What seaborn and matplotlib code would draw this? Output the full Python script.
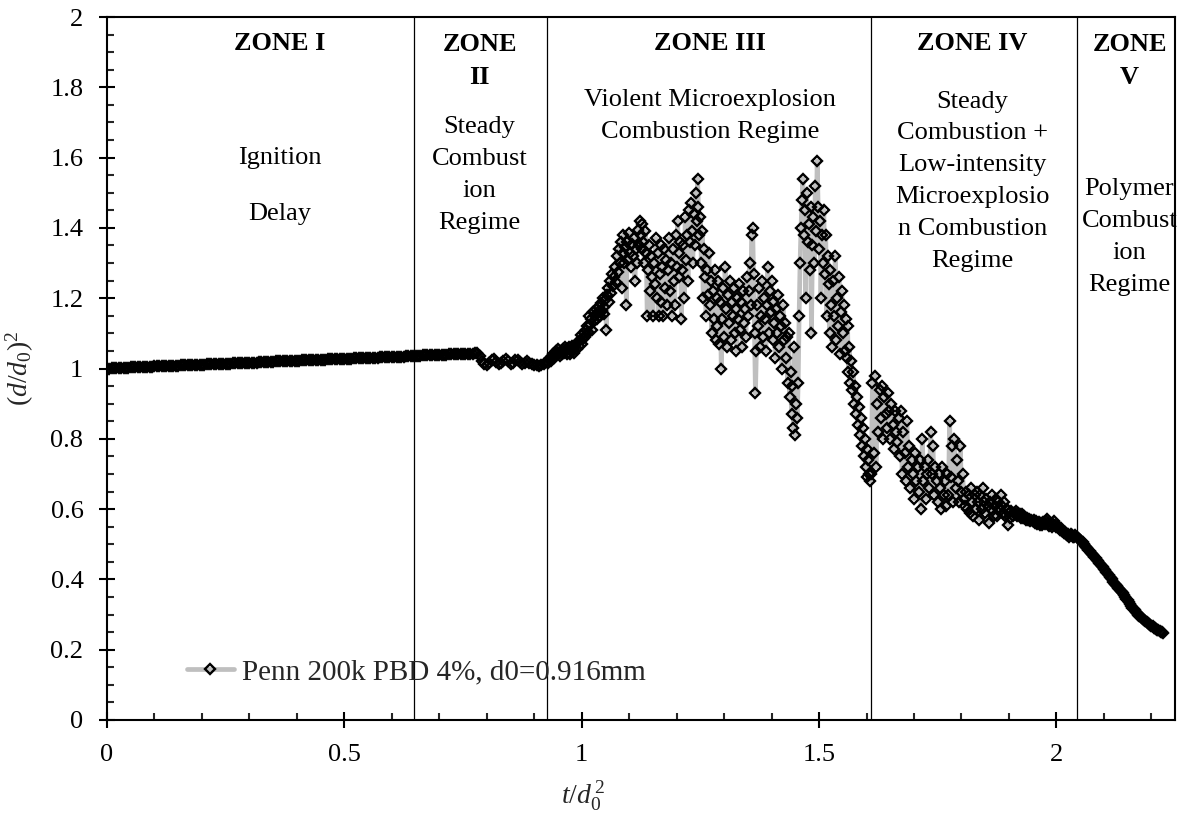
import numpy as np
import pandas as pd
import matplotlib
matplotlib.use("Agg")
import matplotlib.pyplot as plt
import seaborn as sns
from matplotlib.ticker import MultipleLocator, FuncFormatter

# ---------------- data ----------------
# Zone I : ignition delay (smooth, slowly rising)
t_zone1 = [0.000, 0.005, 0.010, 0.015, 0.020, 0.025, 0.030, 0.035, 0.040, 0.045,
           0.050, 0.055, 0.060, 0.065, 0.070, 0.075, 0.080, 0.085, 0.090, 0.095,
           0.100, 0.105, 0.110, 0.115, 0.120, 0.125, 0.130, 0.135, 0.140, 0.145,
           0.150, 0.155, 0.160, 0.165, 0.170, 0.175, 0.180, 0.185, 0.190, 0.195,
           0.200, 0.205, 0.210, 0.215, 0.220, 0.225, 0.230, 0.235, 0.240, 0.245,
           0.250, 0.255, 0.260, 0.265, 0.270, 0.275, 0.280, 0.285, 0.290, 0.295,
           0.300, 0.305, 0.310, 0.315, 0.320, 0.325, 0.330, 0.335, 0.340, 0.345,
           0.350, 0.355, 0.360, 0.365, 0.370, 0.375, 0.380, 0.385, 0.390, 0.395,
           0.400, 0.405, 0.410, 0.415, 0.420, 0.425, 0.430, 0.435, 0.440, 0.445,
           0.450, 0.455, 0.460, 0.465, 0.470, 0.475, 0.480, 0.485, 0.490, 0.495,
           0.500, 0.505, 0.510, 0.515, 0.520, 0.525, 0.530, 0.535, 0.540, 0.545,
           0.550, 0.555, 0.560, 0.565, 0.570, 0.575, 0.580, 0.585, 0.590, 0.595,
           0.600, 0.605, 0.610, 0.615, 0.620, 0.625, 0.630, 0.635, 0.640, 0.645,
           0.650, 0.655, 0.660, 0.665, 0.670, 0.675, 0.680, 0.685, 0.690, 0.695,
           0.700, 0.705, 0.710, 0.715, 0.720, 0.725, 0.730, 0.735, 0.740, 0.745,
           0.750, 0.755, 0.760, 0.765, 0.770, 0.775, 0.780]
d_zone1 = [1.000, 1.000, 1.001, 1.001, 1.001, 1.001, 1.002, 1.002, 1.002, 1.002,
           1.003, 1.003, 1.003, 1.004, 1.004, 1.004, 1.004, 1.005, 1.005, 1.005,
           1.006, 1.006, 1.006, 1.006, 1.007, 1.007, 1.007, 1.007, 1.008, 1.008,
           1.008, 1.009, 1.009, 1.009, 1.009, 1.010, 1.010, 1.010, 1.010, 1.011,
           1.011, 1.011, 1.012, 1.012, 1.012, 1.012, 1.013, 1.013, 1.013, 1.013,
           1.014, 1.014, 1.014, 1.015, 1.015, 1.015, 1.015, 1.016, 1.016, 1.016,
           1.017, 1.017, 1.017, 1.017, 1.018, 1.018, 1.018, 1.018, 1.019, 1.019,
           1.019, 1.020, 1.020, 1.020, 1.020, 1.021, 1.021, 1.021, 1.021, 1.022,
           1.022, 1.022, 1.023, 1.023, 1.023, 1.023, 1.024, 1.024, 1.024, 1.024,
           1.025, 1.025, 1.025, 1.026, 1.026, 1.026, 1.026, 1.027, 1.027, 1.027,
           1.028, 1.028, 1.028, 1.028, 1.029, 1.029, 1.029, 1.029, 1.030, 1.030,
           1.030, 1.031, 1.031, 1.031, 1.031, 1.032, 1.032, 1.032, 1.032, 1.033,
           1.033, 1.033, 1.034, 1.034, 1.034, 1.034, 1.035, 1.035, 1.035, 1.035,
           1.036, 1.036, 1.036, 1.037, 1.037, 1.037, 1.037, 1.038, 1.038, 1.038,
           1.039, 1.039, 1.039, 1.039, 1.040, 1.040, 1.040, 1.040, 1.041, 1.041,
           1.041, 1.042, 1.042, 1.042, 1.042, 1.043, 1.043]

# Zone II : steady combustion (small wiggles)
t_zone2 = [0.785, 0.790, 0.795, 0.800, 0.805, 0.810, 0.815, 0.820, 0.825, 0.830,
           0.835, 0.840, 0.845, 0.850, 0.855, 0.860, 0.865, 0.870, 0.875, 0.880,
           0.885, 0.890, 0.895, 0.900, 0.905, 0.910, 0.915, 0.920, 0.925]
d_zone2 = [1.035, 1.022, 1.012, 1.010, 1.015, 1.024, 1.026, 1.018, 1.012, 1.015,
           1.022, 1.026, 1.020, 1.013, 1.016, 1.023, 1.025, 1.018, 1.014, 1.016,
           1.020, 1.016, 1.012, 1.010, 1.009, 1.008, 1.010, 1.012, 1.018]

# Zone III : violent microexplosions
t_zone3 = [0.930, 0.932, 0.934, 0.936, 0.938, 0.940, 0.942, 0.944, 0.946, 0.948,
           0.950, 0.952, 0.954, 0.956, 0.958, 0.960, 0.962, 0.964, 0.966, 0.968,
           0.970, 0.972, 0.974, 0.976, 0.978, 0.980, 0.982, 0.984, 0.986, 0.988,
           0.990, 0.992, 0.994, 0.996, 0.998, 1.000, 1.002, 1.004, 1.006, 1.008,
           1.010, 1.012, 1.014, 1.016, 1.018, 1.020, 1.022, 1.024, 1.026, 1.028,
           1.030, 1.032, 1.034, 1.036, 1.038, 1.040, 1.042, 1.044, 1.046, 1.048,
           1.050, 1.052, 1.054, 1.056, 1.058, 1.060, 1.062, 1.064, 1.066, 1.068,
           1.070, 1.072, 1.074, 1.076, 1.078, 1.080, 1.082, 1.084, 1.086, 1.088,
           1.090, 1.092, 1.094, 1.096, 1.098, 1.100, 1.102, 1.104, 1.106, 1.108,
           1.110, 1.112, 1.114, 1.116, 1.118, 1.120, 1.122, 1.124, 1.126, 1.128,
           1.130, 1.132, 1.134, 1.136, 1.138, 1.140, 1.142, 1.144, 1.146, 1.148,
           1.150, 1.152, 1.154, 1.156, 1.158, 1.160, 1.162, 1.164, 1.166, 1.168,
           1.170, 1.172, 1.174, 1.176, 1.178, 1.180, 1.182, 1.184, 1.186, 1.188,
           1.190, 1.192, 1.194, 1.196, 1.198, 1.200, 1.202, 1.204, 1.206, 1.208,
           1.210, 1.212, 1.214, 1.216, 1.218, 1.220, 1.222, 1.224, 1.226, 1.228,
           1.230, 1.232, 1.234, 1.236, 1.238, 1.240, 1.242, 1.244, 1.246, 1.248,
           1.250, 1.252, 1.254, 1.256, 1.258, 1.260, 1.262, 1.264, 1.266, 1.268,
           1.270, 1.272, 1.274, 1.276, 1.278, 1.280, 1.282, 1.284, 1.286, 1.288,
           1.290, 1.292, 1.294, 1.296, 1.298, 1.300, 1.302, 1.304, 1.306, 1.308,
           1.310, 1.312, 1.314, 1.316, 1.318, 1.320, 1.322, 1.324, 1.326, 1.328,
           1.330, 1.332, 1.334, 1.336, 1.338, 1.340, 1.342, 1.344, 1.346, 1.348,
           1.350, 1.352, 1.354, 1.356, 1.358, 1.360, 1.362, 1.364, 1.366, 1.368,
           1.370, 1.372, 1.374, 1.376, 1.378, 1.380, 1.382, 1.384, 1.386, 1.388,
           1.390, 1.392, 1.394, 1.396, 1.398, 1.400, 1.402, 1.404, 1.406, 1.408,
           1.410, 1.412, 1.414, 1.416, 1.418, 1.420, 1.422, 1.424, 1.426, 1.428,
           1.430, 1.432, 1.434, 1.436, 1.438, 1.440, 1.442, 1.444, 1.446, 1.448,
           1.450, 1.452, 1.454, 1.456, 1.458, 1.460, 1.462, 1.464, 1.466, 1.468,
           1.470, 1.472, 1.474, 1.476, 1.478, 1.480, 1.482, 1.484, 1.486, 1.488,
           1.490, 1.492, 1.494, 1.496, 1.498, 1.500, 1.502, 1.504, 1.506, 1.508,
           1.510, 1.512, 1.514, 1.516, 1.518, 1.520, 1.522, 1.524, 1.526, 1.528,
           1.530, 1.532, 1.534, 1.536, 1.538, 1.540, 1.542, 1.544, 1.546, 1.548,
           1.550, 1.552, 1.554, 1.556, 1.558, 1.560, 1.562, 1.564, 1.566, 1.568,
           1.570, 1.572, 1.574, 1.576, 1.578, 1.580, 1.582, 1.584, 1.586, 1.588,
           1.590, 1.592, 1.594, 1.596, 1.598, 1.600, 1.602, 1.604, 1.606, 1.608]
d_zone3 = [1.015, 1.025, 1.030, 1.020, 1.035, 1.040, 1.030, 1.045, 1.050, 1.040,
           1.055, 1.045, 1.035, 1.050, 1.040, 1.055, 1.045, 1.060, 1.050, 1.040,
           1.055, 1.045, 1.060, 1.040, 1.050, 1.065, 1.055, 1.045, 1.060, 1.070,
           1.055, 1.075, 1.065, 1.080, 1.095, 1.070, 1.085, 1.100, 1.090, 1.110,
           1.095, 1.120, 1.105, 1.150, 1.125, 1.140, 1.110, 1.160, 1.135, 1.150,
           1.170, 1.140, 1.160, 1.175, 1.150, 1.185, 1.165, 1.200, 1.175, 1.155,
           1.195, 1.110, 1.210, 1.230, 1.190, 1.250, 1.215, 1.270, 1.235, 1.260,
           1.290, 1.245, 1.320, 1.275, 1.340, 1.300, 1.360, 1.230, 1.330, 1.380,
           1.300, 1.345, 1.180, 1.360, 1.310, 1.385, 1.330, 1.290, 1.355, 1.320,
           1.370, 1.250, 1.340, 1.300, 1.395, 1.350, 1.420, 1.380, 1.340, 1.410,
           1.360, 1.300, 1.390, 1.330, 1.150, 1.280, 1.350, 1.220, 1.320, 1.260,
           1.150, 1.300, 1.240, 1.370, 1.200, 1.330, 1.150, 1.270, 1.350, 1.190,
           1.290, 1.150, 1.340, 1.230, 1.310, 1.180, 1.280, 1.370, 1.220, 1.300,
           1.150, 1.340, 1.250, 1.180, 1.380, 1.290, 1.420, 1.330, 1.260, 1.360,
           1.140, 1.280, 1.350, 1.200, 1.430, 1.310, 1.380, 1.250, 1.450, 1.360,
           1.470, 1.390, 1.300, 1.440, 1.350, 1.500, 1.420, 1.540, 1.460, 1.380,
           1.430, 1.300, 1.390, 1.200, 1.340, 1.260, 1.150, 1.280, 1.210, 1.330,
           1.180, 1.250, 1.100, 1.220, 1.140, 1.280, 1.080, 1.200, 1.120, 1.250,
           1.070, 1.190, 1.000, 1.140, 1.230, 1.090, 1.290, 1.170, 1.060, 1.210,
           1.130, 1.250, 1.080, 1.190, 1.150, 1.230, 1.100, 1.170, 1.050, 1.200,
           1.140, 1.240, 1.110, 1.190, 1.060, 1.220, 1.130, 1.170, 1.090, 1.260,
           1.150, 1.220, 1.300, 1.180, 1.380, 1.400, 1.270, 1.100, 0.930, 1.050,
           1.180, 1.120, 1.230, 1.060, 1.150, 1.250, 1.090, 1.200, 1.140, 1.050,
           1.180, 1.290, 1.100, 1.220, 1.160, 1.250, 1.080, 1.190, 1.130, 1.030,
           1.170, 1.100, 1.210, 1.060, 1.150, 1.120, 1.000, 1.180, 1.080, 1.130,
           1.030, 1.090, 0.960, 1.100, 0.920, 0.990, 0.870, 0.950, 0.830, 1.060,
           0.810, 0.900, 0.860, 0.960, 1.150, 1.300, 1.400, 1.480, 1.540, 1.380,
           1.450, 1.200, 1.500, 1.360, 1.410, 1.280, 1.460, 1.100, 1.350, 1.430,
           1.300, 1.520, 1.390, 1.590, 1.460, 1.340, 1.420, 1.200, 1.380, 1.300,
           1.450, 1.270, 1.380, 1.150, 1.320, 1.240, 1.100, 1.280, 1.180, 1.060,
           1.250, 1.150, 1.320, 1.080, 1.200, 1.120, 1.260, 1.040, 1.160, 1.220,
           1.100, 1.180, 1.050, 1.140, 1.030, 1.120, 0.990, 1.060, 0.960, 1.020,
           0.940, 0.990, 0.900, 0.950, 0.870, 0.920, 0.840, 0.890, 0.810, 0.860,
           0.780, 0.830, 0.750, 0.800, 0.720, 0.770, 0.690, 0.740, 0.700, 0.680]

# Zone IV : steady combustion + low-intensity microexplosions
t_zone4 = [1.6100, 1.6125, 1.6150, 1.6175, 1.6200, 1.6225, 1.6250, 1.6275,
           1.6300, 1.6325, 1.6350, 1.6375, 1.6400, 1.6425, 1.6450, 1.6475,
           1.6500, 1.6525, 1.6550, 1.6575, 1.6600, 1.6625, 1.6650, 1.6675,
           1.6700, 1.6725, 1.6750, 1.6775, 1.6800, 1.6825, 1.6850, 1.6875,
           1.6900, 1.6925, 1.6950, 1.6975, 1.7000, 1.7025, 1.7050, 1.7075,
           1.7100, 1.7125, 1.7150, 1.7175, 1.7200, 1.7225, 1.7250, 1.7275,
           1.7300, 1.7325, 1.7350, 1.7375, 1.7400, 1.7425, 1.7450, 1.7475,
           1.7500, 1.7525, 1.7550, 1.7575, 1.7600, 1.7625, 1.7650, 1.7675,
           1.7700, 1.7725, 1.7750, 1.7775, 1.7800, 1.7825, 1.7850, 1.7875,
           1.7900, 1.7925, 1.7950, 1.7975, 1.8000, 1.8025, 1.8050, 1.8075,
           1.8100, 1.8125, 1.8150, 1.8175, 1.8200, 1.8225, 1.8250, 1.8275,
           1.8300, 1.8325, 1.8350, 1.8375, 1.8400, 1.8425, 1.8450, 1.8475,
           1.8500, 1.8525, 1.8550, 1.8575, 1.8600, 1.8625, 1.8650, 1.8675,
           1.8700, 1.8725, 1.8750, 1.8775, 1.8800, 1.8825, 1.8850, 1.8875,
           1.8900, 1.8925, 1.8950, 1.8975, 1.9000, 1.9025, 1.9050, 1.9075,
           1.9100, 1.9125, 1.9150, 1.9175, 1.9200, 1.9225, 1.9250, 1.9275,
           1.9300, 1.9325, 1.9350, 1.9375, 1.9400, 1.9425, 1.9450, 1.9475,
           1.9500, 1.9525, 1.9550, 1.9575, 1.9600, 1.9625, 1.9650, 1.9675,
           1.9700, 1.9725, 1.9750, 1.9775, 1.9800, 1.9825, 1.9850, 1.9875,
           1.9900, 1.9925, 1.9950, 1.9975, 2.0000, 2.0025, 2.0050, 2.0075,
           2.0100, 2.0125, 2.0150, 2.0175, 2.0200, 2.0225, 2.0250, 2.0275,
           2.0300, 2.0325, 2.0350, 2.0375]
d_zone4 = [0.700, 0.960, 0.760, 0.980, 0.720, 0.900, 0.820, 0.940,
           0.860, 0.950, 0.800, 0.920, 0.870, 0.830, 0.930, 0.880,
           0.800, 0.900, 0.840, 0.770, 0.880, 0.820, 0.790, 0.860,
           0.750, 0.880, 0.700, 0.820, 0.760, 0.680, 0.850, 0.720,
           0.780, 0.660, 0.740, 0.700, 0.630, 0.760, 0.680, 0.720,
           0.650, 0.740, 0.600, 0.800, 0.680, 0.720, 0.630, 0.700,
           0.740, 0.660, 0.820, 0.700, 0.780, 0.640, 0.720, 0.680,
           0.620, 0.700, 0.660, 0.600, 0.720, 0.640, 0.680, 0.610,
           0.700, 0.640, 0.850, 0.690, 0.780, 0.620, 0.800, 0.660,
           0.740, 0.680, 0.620, 0.780, 0.650, 0.700, 0.630, 0.610,
           0.650, 0.600, 0.640, 0.590, 0.660, 0.620, 0.580, 0.640,
           0.600, 0.650, 0.620, 0.570, 0.640, 0.600, 0.660, 0.620,
           0.590, 0.630, 0.610, 0.560, 0.620, 0.600, 0.640, 0.580,
           0.610, 0.630, 0.580, 0.620, 0.600, 0.640, 0.610, 0.590,
           0.620, 0.580, 0.600, 0.555, 0.590, 0.575, 0.595, 0.580,
           0.590, 0.585, 0.595, 0.580, 0.590, 0.585, 0.575, 0.585,
           0.575, 0.580, 0.570, 0.575, 0.568, 0.572, 0.565, 0.570,
           0.565, 0.568, 0.560, 0.566, 0.558, 0.562, 0.556, 0.560,
           0.555, 0.562, 0.558, 0.566, 0.572, 0.560, 0.552, 0.556,
           0.550, 0.558, 0.565, 0.555, 0.548, 0.552, 0.545, 0.540,
           0.545, 0.538, 0.532, 0.536, 0.530, 0.525, 0.528, 0.522,
           0.530, 0.525, 0.520, 0.522]

# Zone V : polymer combustion (smooth decline)
t_zone5 = [2.0400, 2.0425, 2.0450, 2.0475, 2.0500, 2.0525, 2.0550, 2.0575,
           2.0600, 2.0625, 2.0650, 2.0675, 2.0700, 2.0725, 2.0750, 2.0775,
           2.0800, 2.0825, 2.0850, 2.0875, 2.0900, 2.0925, 2.0950, 2.0975,
           2.1000, 2.1025, 2.1050, 2.1075, 2.1100, 2.1125, 2.1150, 2.1175,
           2.1200, 2.1225, 2.1250, 2.1275, 2.1300, 2.1325, 2.1350, 2.1375,
           2.1400, 2.1425, 2.1450, 2.1475, 2.1500, 2.1525, 2.1550, 2.1575,
           2.1600, 2.1625, 2.1650, 2.1675, 2.1700, 2.1725, 2.1750, 2.1775,
           2.1800, 2.1825, 2.1850, 2.1875, 2.1900, 2.1925, 2.1950, 2.1975,
           2.2000, 2.2025, 2.2050, 2.2075, 2.2100, 2.2125, 2.2150, 2.2175,
           2.2200, 2.2225, 2.2250]
d_zone5 = [0.525, 0.522, 0.518, 0.515, 0.512, 0.508, 0.505, 0.500,
           0.496, 0.492, 0.488, 0.484, 0.480, 0.476, 0.472, 0.468,
           0.464, 0.460, 0.456, 0.452, 0.447, 0.443, 0.439, 0.435,
           0.430, 0.426, 0.421, 0.417, 0.412, 0.408, 0.404, 0.400,
           0.392, 0.388, 0.384, 0.380, 0.376, 0.372, 0.368, 0.364,
           0.360, 0.355, 0.350, 0.345, 0.340, 0.335, 0.330, 0.325,
           0.320, 0.316, 0.312, 0.308, 0.304, 0.300, 0.297, 0.294,
           0.291, 0.288, 0.285, 0.282, 0.279, 0.276, 0.273, 0.270,
           0.268, 0.266, 0.263, 0.261, 0.259, 0.257, 0.255, 0.253,
           0.251, 0.249, 0.247]

zone_bounds = [0.646, 0.926, 1.61, 2.044]
series_label = "Penn 200k PBD 4%, d0=0.916mm"

# ---------------- plotting ----------------
sns.set_theme(style="white")
plt.rcParams['font.family'] = ['Liberation Serif', 'DejaVu Serif']
plt.rcParams['mathtext.fontset'] = 'custom'
plt.rcParams['mathtext.rm'] = 'Liberation Serif'
plt.rcParams['mathtext.it'] = 'Liberation Serif:italic'

df = pd.DataFrame({
    "t": t_zone1 + t_zone2 + t_zone3 + t_zone4 + t_zone5,
    "d": d_zone1 + d_zone2 + d_zone3 + d_zone4 + d_zone5,
})

fig = plt.figure(figsize=(11.81, 8.15), dpi=100)
ax = fig.add_axes([0.0906, 0.1166, 0.9044, 0.8625])

sns.lineplot(data=df, x="t", y="d", ax=ax, sort=False, estimator=None,
             color="#bfbfbf", linewidth=3.4, marker="D", markersize=5.5,
             markerfacecolor="none", markeredgecolor="black",
             markeredgewidth=1.7, label=series_label)

for b in zone_bounds:
    ax.axvline(b, color="black", linewidth=0.9, zorder=1)

ax.set_xlim(0, 2.25)
ax.set_ylim(0, 2)
ax.xaxis.set_major_locator(MultipleLocator(0.5))
ax.xaxis.set_minor_locator(MultipleLocator(0.1))
ax.yaxis.set_major_locator(MultipleLocator(0.2))
ax.yaxis.set_minor_locator(MultipleLocator(0.05))
fmt = FuncFormatter(lambda v, p: f"{v:g}")
ax.xaxis.set_major_formatter(fmt)
ax.yaxis.set_major_formatter(fmt)
ax.tick_params(which="major", direction="inout", length=12, width=1.5,
               labelsize=19, pad=11, colors="black")
ax.tick_params(which="minor", direction="in", length=5, width=1.5)
ax.tick_params(axis="x", which="both", bottom=True, top=False)
ax.tick_params(axis="y", which="both", left=True, right=False)
for s in ax.spines.values():
    s.set_color("black")
    s.set_linewidth(1.5)

ax.set_xlabel(r"$t/d_0^{\,2}$", fontsize=20, labelpad=8)
ax.xaxis.set_label_coords(0.446, -0.085)
ax.set_ylabel(r"$(d/d_0)^2$", fontsize=20, labelpad=10)

fs = 19
def txt(x, y, s, bold=False):
    ax.text(x, y, s, ha="center", va="center", fontsize=fs,
            fontweight="bold" if bold else "normal", linespacing=1.58,
            color="black")

txt(0.364, 1.925, "ZONE I", True)
txt(0.364, 1.60, "Ignition")
txt(0.364, 1.44, "Delay")
txt(0.785, 1.875, "ZONE\nII", True)
txt(0.785, 1.55, "Steady\nCombust\nion\nRegime")
txt(1.27, 1.925, "ZONE III", True)
txt(1.27, 1.718, "Violent Microexplosion\nCombustion Regime")
txt(1.823, 1.925, "ZONE IV", True)
txt(1.823, 1.533, "Steady\nCombustion +\nLow-intensity\nMicroexplosio\nn Combustion\nRegime")
txt(2.154, 1.875, "ZONE\nV", True)
txt(2.154, 1.374, "Polymer\nCombust\nion\nRegime")

leg = ax.legend(loc="center left", bbox_to_anchor=(0.064, 0.068), frameon=False,
                fontsize=21, handlelength=1.6, handletextpad=0.3, borderaxespad=0)

fig.savefig("out.png", dpi=100, facecolor="white")
